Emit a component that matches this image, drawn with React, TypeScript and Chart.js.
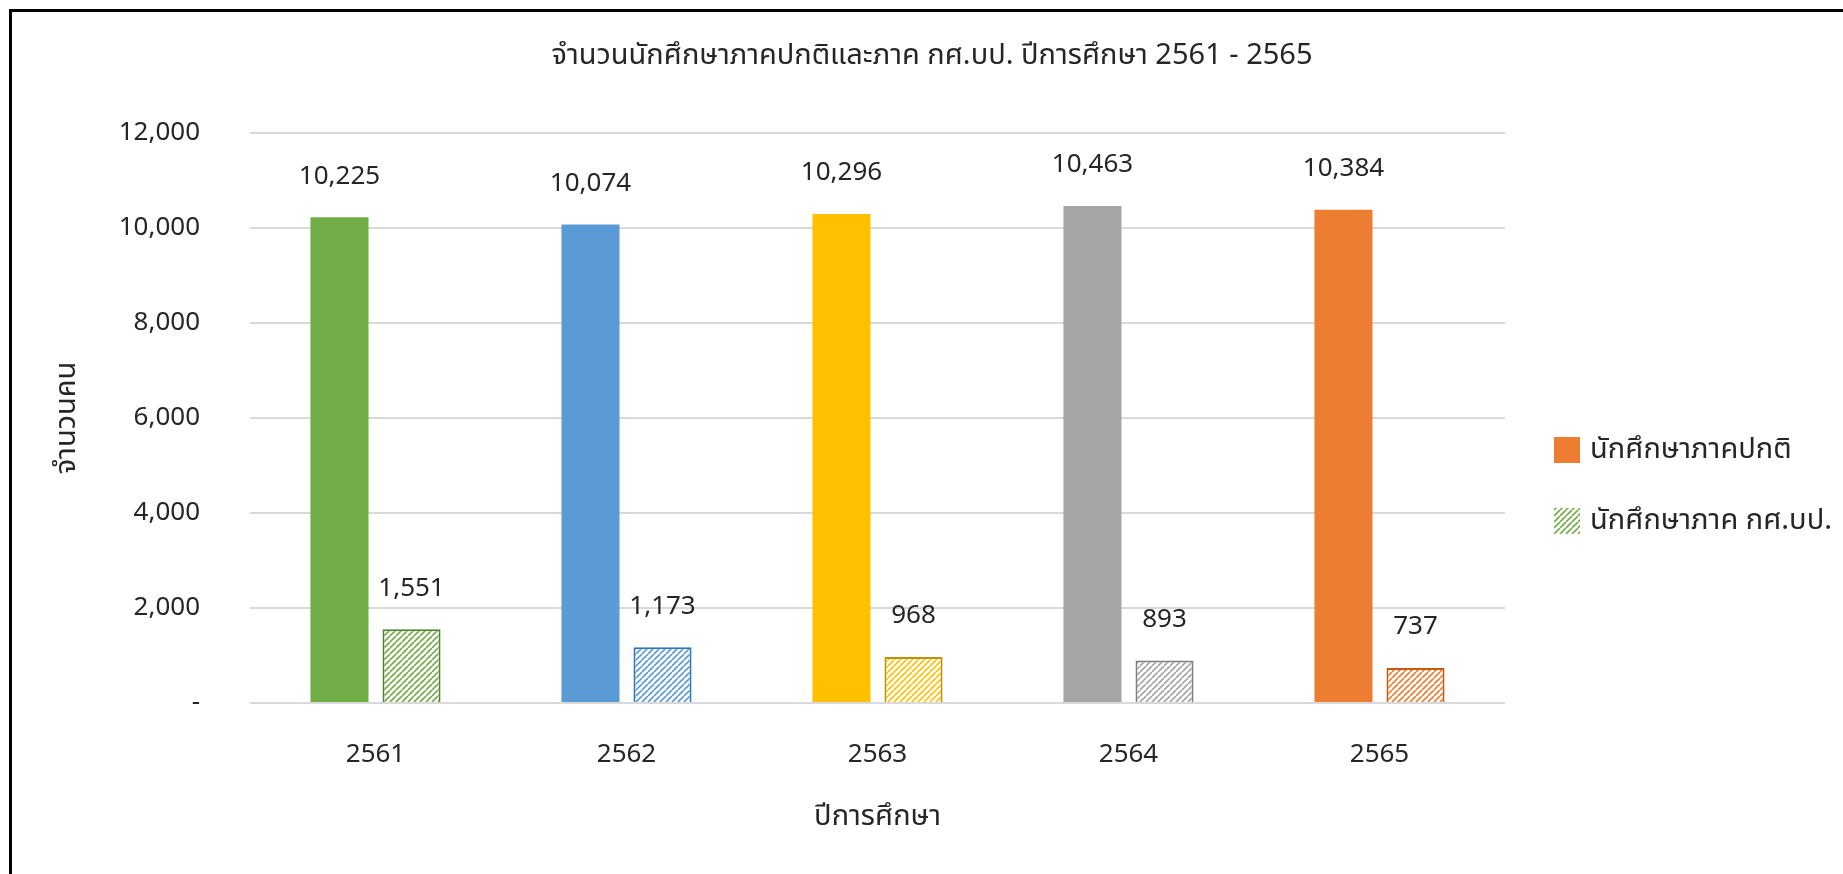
import React, { useEffect, useRef } from "react";
import { Chart, registerables } from "chart.js";

Chart.register(...registerables);

const categories = ["2561", "2562", "2563", "2564", "2565"];
const regularStudents = [10225, 10074, 10296, 10463, 10384];
const specialStudents = [1551, 1173, 968, 893, 737];
const seriesNames = ["นักศึกษาภาคปกติ", "นักศึกษาภาค กศ.บป."];
const barColors = ["#70AD47", "#5B9BD5", "#FFC000", "#A5A5A5", "#ED7D31"];
const borderColors = ["#548235", "#2E75B6", "#BF9000", "#7F7F7F", "#C55A11"];
const yTicks = [0, 2000, 4000, 6000, 8000, 10000, 12000];
const titleText = "จำนวนนักศึกษาภาคปกติและภาค กศ.บป. ปีการศึกษา 2561 - 2565";
const yTitle = "จำนวนคน";
const xTitle = "ปีการศึกษา";

const FONT = "'Noto Sans', 'Noto Sans Thai', Tahoma, sans-serif";
const TEXT = "#262626";
const NUM_SIZE = 26;
const THAI_SIZE = 29;

function makeHatch(color: string): CanvasPattern | string {
  const s = 6;
  const c = document.createElement("canvas");
  c.width = s;
  c.height = s;
  const ctx = c.getContext("2d");
  if (!ctx) return color;
  ctx.fillStyle = "#ffffff";
  ctx.fillRect(0, 0, s, s);
  ctx.strokeStyle = color;
  ctx.lineWidth = 1.6;
  ctx.beginPath();
  for (const k of [-s, 0, s]) {
    ctx.moveTo(k, s);
    ctx.lineTo(k + s, 0);
  }
  ctx.stroke();
  const p = ctx.createPattern(c, "repeat");
  return p || color;
}

const fmt = (v: number) => (v === 0 ? "-" : v.toLocaleString("en-US"));

const dataLabelPlugin = {
  id: "dataLabels",
  afterDatasetsDraw(chart: any) {
    const ctx = chart.ctx;
    ctx.save();
    ctx.font = `${NUM_SIZE}px ${FONT}`;
    ctx.fillStyle = TEXT;
    ctx.textAlign = "center";
    ctx.textBaseline = "middle";
    chart.data.datasets.forEach((ds: any, i: number) => {
      const meta = chart.getDatasetMeta(i);
      meta.data.forEach((bar: any, j: number) => {
        ctx.fillText(fmt(ds.data[j]), bar.x, bar.y - 41);
      });
    });
    ctx.restore();
  },
};

const titlePlugin = {
  id: "customTitle",
  afterDraw(chart: any) {
    const ctx = chart.ctx;
    ctx.save();
    ctx.font = `29px ${FONT}`;
    ctx.fillStyle = TEXT;
    ctx.textAlign = "center";
    ctx.textBaseline = "middle";
    ctx.fillText(titleText, 932, 56);
    ctx.restore();
  },
};

const legendPlugin = {
  id: "customLegend",
  afterDraw(chart: any) {
    const ctx = chart.ctx;
    ctx.save();
    const x = 1554;
    const rows = [450, 521];
    const fills: any[] = [barColors[4], makeHatch(barColors[0])];
    rows.forEach((cy, i) => {
      ctx.fillStyle = fills[i];
      ctx.fillRect(x, cy - 13, 26, 26);
      ctx.fillStyle = TEXT;
      ctx.font = `${THAI_SIZE}px ${FONT}`;
      ctx.textAlign = "left";
      ctx.textBaseline = "middle";
      ctx.fillText(seriesNames[i], x + 36, cy);
    });
    ctx.restore();
  },
};

export default function App() {
  const ref = useRef<HTMLCanvasElement | null>(null);

  useEffect(() => {
    if (!ref.current) return;
    const chart = new Chart(ref.current, {
      type: "bar",
      data: {
        labels: categories,
        datasets: [
          {
            label: seriesNames[0],
            data: regularStudents,
            backgroundColor: barColors,
            borderWidth: 0,
            categoryPercentage: 0.574,
            barPercentage: 0.806,
          },
          {
            label: seriesNames[1],
            data: specialStudents,
            backgroundColor: barColors.map((c) => makeHatch(c)) as any,
            borderColor: borderColors,
            borderWidth: 2,
            categoryPercentage: 0.574,
            barPercentage: 0.806,
          },
        ],
      },
      options: {
        responsive: false,
        animation: false,
        layout: { padding: { left: 0, right: 338, top: 133, bottom: 0 } },
        plugins: {
          legend: { display: false },
          tooltip: { enabled: false },
          title: { display: false },
        },
        scales: {
          x: {
            grid: { display: false, drawTicks: false },
            border: { display: false },
            ticks: {
              color: TEXT,
              font: { family: FONT, size: NUM_SIZE },
              padding: 36,
            },
            title: {
              display: true,
              text: xTitle,
              color: TEXT,
              font: { family: FONT, size: THAI_SIZE },
              padding: { top: 0, bottom: 40 },
            },
            afterFit(scale: any) {
              scale.height = 171;
            },
          },
          y: {
            min: 0,
            max: 12000,
            afterBuildTicks(scale: any) {
              scale.ticks = yTicks.map((v) => ({ value: v }));
            },
            grid: { color: "#D9D9D9", lineWidth: 2, drawTicks: false },
            border: { display: false },
            ticks: {
              color: TEXT,
              font: { family: FONT, size: NUM_SIZE },
              padding: 50,
              callback: (v: any) => fmt(Number(v)),
            },
            title: {
              display: true,
              text: yTitle,
              color: TEXT,
              font: { family: FONT, size: THAI_SIZE },
              padding: { top: 49, bottom: 0 },
            },
            afterFit(scale: any) {
              scale.width = 250;
            },
          },
        },
      },
      plugins: [dataLabelPlugin, titlePlugin, legendPlugin],
    });
    return () => chart.destroy();
  }, []);

  return (
    <div>
      <div
        style={{
          position: "fixed",
          left: 9,
          top: 9,
          width: 1900,
          height: 900,
          border: "3px solid #000",
          boxSizing: "border-box",
          background: "#fff",
        }}
      />
      <canvas
        ref={ref}
        width={1843}
        height={874}
        style={{ position: "fixed", left: 0, top: 0, width: 1843, height: 874 }}
      />
    </div>
  );
}
